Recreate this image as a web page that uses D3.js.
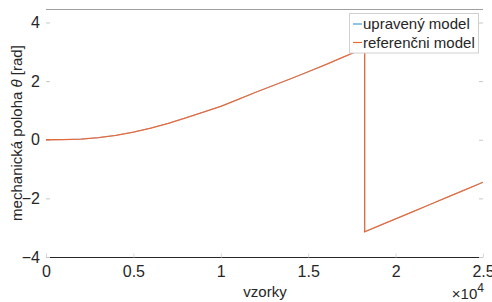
<!DOCTYPE html>
<html>
<head>
<meta charset="utf-8">
<script src="https://cdn.jsdelivr.net/npm/d3@7"></script>
<style>
  body { margin: 0; background: #fff; }
  text { font-family: "Liberation Sans", Arial, sans-serif; fill: #262626; }
</style>
</head>
<body>
<div id="chart"></div>
<script>
// vzorky (x 10^4) a poloha [rad]
var samples = [0, 0.1, 0.2, 0.3, 0.4, 0.5, 0.6, 0.7, 0.8, 0.9, 1.0, 1.1, 1.2, 1.3, 1.4, 1.5, 1.6, 1.7, 1.8, 1.823, 1.823, 1.9, 2.0, 2.1, 2.2, 2.3, 2.4, 2.5];
var upraveny = [0, 0.005, 0.02, 0.07, 0.15, 0.26, 0.4, 0.56, 0.75, 0.94, 1.14, 1.38, 1.62, 1.85, 2.08, 2.32, 2.56, 2.82, 3.07, 3.14, -3.14, -2.95, -2.70, -2.45, -2.20, -1.95, -1.70, -1.45];
var referencni = [0, 0.005, 0.02, 0.07, 0.15, 0.26, 0.4, 0.56, 0.75, 0.94, 1.14, 1.38, 1.62, 1.85, 2.08, 2.32, 2.56, 2.82, 3.07, 3.14, -3.14, -2.95, -2.70, -2.45, -2.20, -1.95, -1.70, -1.45];
var xTicks = [0, 0.5, 1, 1.5, 2, 2.5];
var yTicks = [-4, -2, 0, 2, 4];
var seriesNames = ["upravený model", "referenčni model"];
var colors = ["#4a9ad4", "#e56b3c"];
var widths = [0.6, 1.3];

var width = 492,
    height = 302;
// okraje grafu (pozor: "top" je v prohlizeci obsazene)
var pLeft = 46, pRight = 483, pTop = 9, pBottom = 257;

var svg = d3.select("#chart").append("svg")
    .attr("width", width)
    .attr("height", height);

var x = d3.scaleLinear().domain([0, 2.5]).range([pLeft, pRight]);
var y = d3.scaleLinear().domain([-4, 4.46]).range([pBottom, pTop]);

// horni hrana
svg.append("line")
    .attr("x1", pLeft).attr("x2", pRight)
    .attr("y1", pTop + 0.5).attr("y2", pTop + 0.5)
    .attr("stroke", "#a0a0a0");

// osa x
var xAxis = svg.append("g")
    .attr("transform", "translate(0," + (pBottom + 0.5) + ")")
    .call(d3.axisBottom(x).tickValues(xTicks).tickSize(-4).tickPadding(8)
        .tickFormat(d3.format("")));
xAxis.select(".domain").attr("stroke", "#262626").attr("d", "M" + pLeft + ",0H" + pRight);
xAxis.selectAll(".tick line").attr("stroke", "#d8d8d8");
xAxis.selectAll("text").attr("font-size", 16).attr("fill", "#262626")
    .attr("font-family", "Liberation Sans, Arial, sans-serif");

// osa y
var yAxis = svg.append("g")
    .attr("transform", "translate(" + pLeft + ",0)")
    .call(d3.axisLeft(y).tickValues(yTicks).tickSize(-4).tickPadding(6));
yAxis.select(".domain").remove();
yAxis.selectAll(".tick line").attr("stroke", "#c8c8c8");
yAxis.selectAll("text").attr("font-size", 16).attr("fill", "#262626")
    .attr("font-family", "Liberation Sans, Arial, sans-serif");

// prava osa jen carky
svg.append("g")
    .attr("transform", "translate(" + pRight + ",0)")
    .call(d3.axisRight(y).tickValues(yTicks).tickSize(-4).tickFormat(""))
    .call(function (g) {
        g.select(".domain").remove();
        g.selectAll(".tick line").attr("stroke", "#c8c8c8");
    });

// krivky (referencni prekryva upraveny)
var line = d3.line()
    .x(function (d) { return x(d[0]); })
    .y(function (d) { return y(d[1]); });

[upraveny, referencni].forEach(function (vals, i) {
    svg.append("path")
        .datum(samples.map(function (s, j) { return [s, vals[j]]; }))
        .attr("fill", "none")
        .attr("stroke", colors[i])
        .attr("stroke-width", widths[i])
        .attr("d", line);
});

// popisky os
svg.append("text")
    .attr("x", 265).attr("y", 297)
    .attr("text-anchor", "middle")
    .attr("font-size", 15)
    .text("vzorky");

svg.append("text")
    .attr("transform", "translate(22,133) rotate(-90)")
    .attr("text-anchor", "middle")
    .attr("font-size", 15)
    .html("mechanická poloha <tspan font-style='italic'>θ</tspan> [rad]");

var expo = svg.append("text")
    .attr("x", 484).attr("y", 299)
    .attr("text-anchor", "end")
    .attr("font-size", 15);
expo.append("tspan").text("×10");
expo.append("tspan").attr("dy", -7).attr("font-size", 12).text("4");

// legenda
var lg = svg.append("g");
lg.append("rect")
    .attr("x", 349.5).attr("y", 13.5)
    .attr("width", 129).attr("height", 39.5)
    .attr("fill", "#fff")
    .attr("stroke", "#d0d0d0");
seriesNames.forEach(function (name, i) {
    var yy = 24 + i * 18.5;
    lg.append("line")
        .attr("x1", 353).attr("x2", 362)
        .attr("y1", yy).attr("y2", yy)
        .attr("stroke", colors[i]).attr("stroke-width", 1.2);
    lg.append("text")
        .attr("x", 363).attr("y", yy + 5)
        .attr("font-size", 15)
        .text(name);
});
</script>
</body>
</html>
